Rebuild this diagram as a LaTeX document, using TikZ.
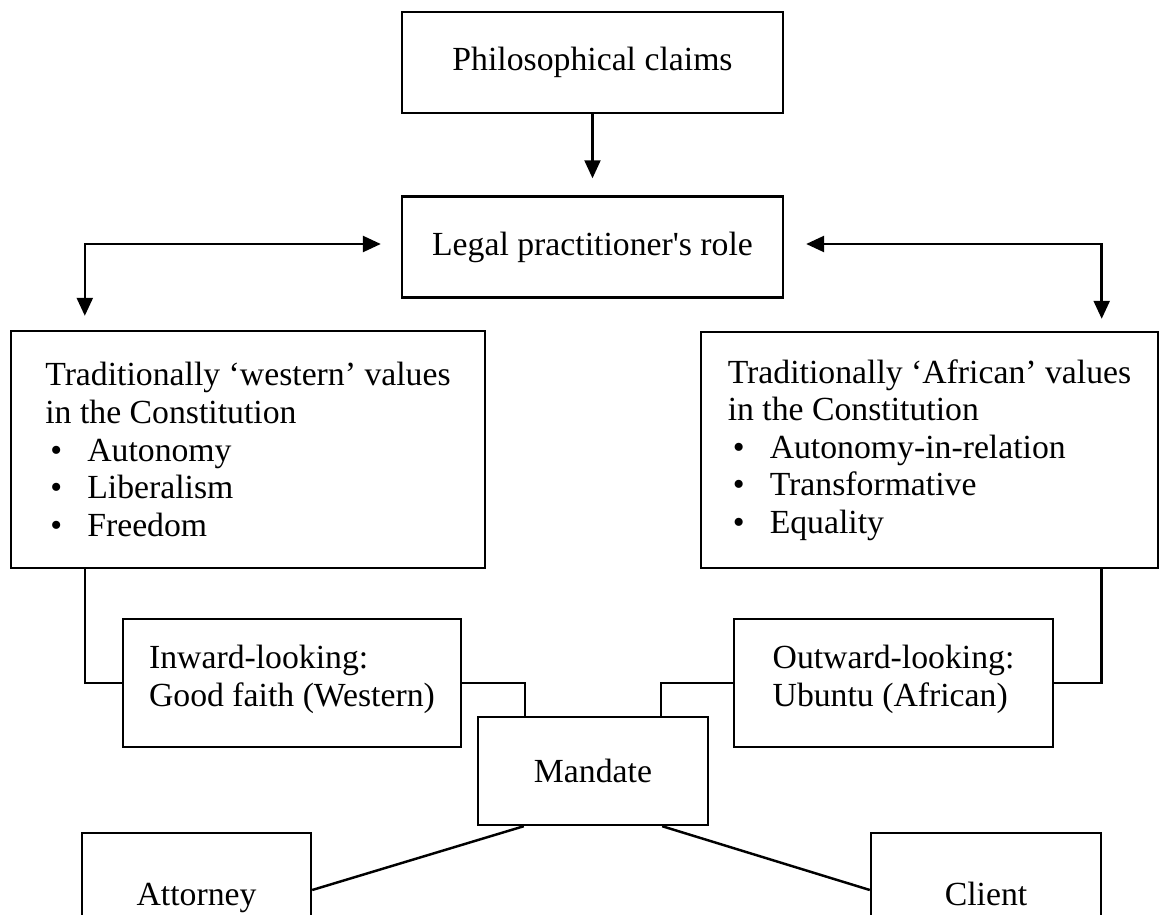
\documentclass[tikz,border=0pt]{standalone}
\usepackage{fontspec}
\setmainfont{Liberation Serif}
\usetikzlibrary{arrows.meta}
\newcommand{\bitem}[1]{\makebox[0.84cm][l]{\hspace{0.1cm}\textbullet}#1}

\begin{document}
\begin{tikzpicture}[x=0.02cm, y=-0.02cm]
		\tikzstyle{every node}=[font=\fontsize{19.2}{21.4}\selectfont]
		\tikzstyle{box}=[draw, line width=1.4pt, inner sep=0pt]
		\tikzstyle{party}=[box, minimum width=4.6cm, minimum height=2.28cm, text height=0.6cm, text depth=0cm]
		\tikzstyle{link}=[line width=1.4pt]
		\useasboundingbox (0,0) rectangle (1167,915);
		\node[box, minimum width=7.62cm, minimum height=2.02cm] (Claims) at (592.5,62.5) {Philosophical claims};
		\node[box, minimum width=7.62cm, minimum height=2.02cm] (Role) at (592.5,247) {Legal practitioner\textquotesingle s role};
		\node[box, minimum width=9.48cm, minimum height=4.74cm, align=left] (Western) at (248,449.5)
			{Traditionally `western' values\\in the Constitution\\\bitem{Autonomy}\\\bitem{Liberalism}\\\bitem{Freedom}};
		\node[box, minimum width=9.14cm, minimum height=4.72cm, align=left] (African) at (929.5,450)
			{Traditionally `African' values\\in the Constitution\\\bitem{Autonomy-in-relation}\\\bitem{Transformative}\\\bitem{Equality}};
		\node[box, minimum width=6.76cm, minimum height=2.56cm, align=left, text depth=0.3cm] (Inward) at (292,683)
			{Inward-looking:\\Good faith (Western)};
		\node[box, minimum width=6.38cm, minimum height=2.56cm, align=left, text depth=0.3cm] (Outward) at (893.5,683)
			{Outward-looking:\\Ubuntu (African)};
		\node[box, minimum width=4.6cm, minimum height=2.16cm] (Mandate) at (593,771) {Mandate};
		\node[party, minimum width=4.58cm] (Attorney) at (196.5,890) {Attorney};
		\node[party] (Client) at (986,890) {Client};
		\draw[link, line width=1.2pt, -{Triangle[length=0.36cm, width=0.32cm]}, shorten >=0.34cm] (Claims) -- (Role);
		\draw[link, {Triangle[length=0.36cm, width=0.32cm]}-{Triangle[length=0.36cm, width=0.32cm]}, shorten <=0.4cm, shorten >=0.28cm]
			([yshift=0.06cm]Role.west) -| ([xshift=1.5cm]Western.north west);
		\draw[link, {Triangle[length=0.36cm, width=0.32cm]}-{Triangle[length=0.36cm, width=0.32cm]}, shorten <=0.44cm, shorten >=0.24cm]
			([yshift=0.06cm]Role.east) -| ([xshift=-1.15cm]African.north east);
		\draw[link] ([xshift=1.5cm]Western.south west) |- (Inward.west);
		\draw[link] ([xshift=-1.15cm]African.south east) |- (Outward.east);
		\draw[link] (Inward.east) -| ([xshift=0.96cm]Mandate.north west);
		\draw[link] (Outward.west) -| ([xshift=-0.96cm]Mandate.north east);
		\draw[link] ([xshift=0.94cm]Mandate.south west) -- (Attorney.east);
		\draw[link] ([xshift=-0.94cm]Mandate.south east) -- (Client.west);
\end{tikzpicture}
\end{document}
